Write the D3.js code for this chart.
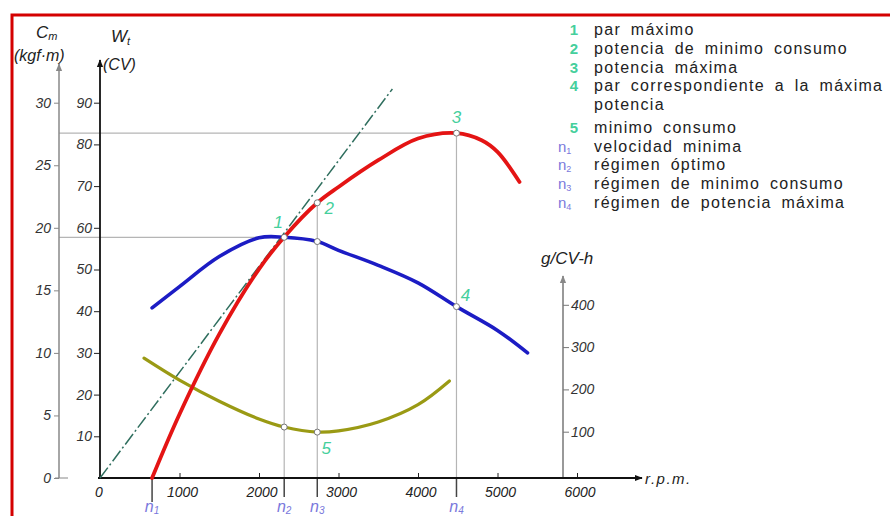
<!DOCTYPE html>
<html>
<head>
<meta charset="utf-8">
<script src="https://cdn.jsdelivr.net/npm/d3@7"></script>
<style>
  body { margin: 0; background: #fff; }
  svg { display: block; }
  .tick text { font-family: "Liberation Sans", Arial, sans-serif; font-style: italic; font-size: 14px; fill: #333; }
  .lbl { font-family: "Liberation Sans", Arial, sans-serif; font-style: italic; fill: #222; }
  .legend { font-family: "Liberation Sans", Arial, sans-serif; font-size: 16px; fill: #222; letter-spacing: 1.3px; word-spacing: 4px; }
</style>
</head>
<body>
<div id="box"></div>
<script>
// rpm for the special points n1..n4
var nRpm = [655, 2317, 2733, 4484];
var nNames = ["1", "2", "3", "4"];

// effective power Wt (CV)
var powerRpm = [655, 1000, 1500, 2000, 2317, 2733, 3000, 3500, 4000, 4484, 4800, 5000, 5277];
var powerCV  = [0, 15.3, 34.5, 50.1, 57.8, 66.0, 69.8, 76.2, 81.4, 82.7, 81.0, 78.2, 71.0];

// torque Cm (kgf.m)
var torqueRpm = [655, 1000, 1500, 2000, 2317, 2733, 3000, 3500, 4000, 4484, 5000, 5378];
var torqueKgm = [13.6, 15.3, 17.7, 19.2, 19.24, 18.9, 18.2, 17.0, 15.6, 13.7, 11.8, 10.0];

// specific consumption (g/CV-h)
var consRpm = [554, 1000, 1500, 2000, 2317, 2733, 3000, 3500, 4000, 4395];
var consG   = [274, 222, 172, 130, 111, 99, 102, 123, 164, 220];

// tangent line from origin
var tangentRpm = [0, 3678];
var tangentCV  = [0, 93.3];

// axis ticks
var rpmTicks = [0, 1000, 2000, 3000, 4000, 5000, 6000];
var cmTicks = [0, 5, 10, 15, 20, 25, 30];
var wtTicks = [10, 20, 30, 40, 50, 60, 70, 80, 90];
var gTicks = [100, 200, 300, 400];

var legendKeys = ["1", "2", "3", "4", "", "5", "n1", "n2", "n3", "n4"];
var legendTexts = ["par máximo", "potencia de minimo consumo", "potencia máxima",
    "par correspondiente a la máxima", "potencia", "minimo consumo", "velocidad minima",
    "régimen óptimo", "régimen de minimo consumo", "régimen de potencia máxima"];

var W = 890, H = 516;
var svg = d3.select("#box").append("svg").attr("width", W).attr("height", H);

var x = d3.scaleLinear().domain([0, 6000]).range([100, 577]);
var yW = d3.scaleLinear().domain([0, 90]).range([478, 102.7]);
var yC = d3.scaleLinear().domain([0, 30]).range([478, 102.7]);
var yG = d3.scaleLinear().domain([0, 400]).range([474, 304.8]);

var mint = "#45cf9c", nBlue = "#7a78dc";

// arrow markers
var defs = svg.append("defs");
function arrow(id, color) {
    defs.append("marker").attr("id", id)
        .attr("viewBox", "0 0 10 10").attr("refX", 9).attr("refY", 5)
        .attr("markerWidth", 8).attr("markerHeight", 8).attr("orient", "auto-start-reverse")
        .attr("markerUnits", "userSpaceOnUse")
        .append("path").attr("d", "M0,1 L10,5 L0,9 Z").attr("fill", color);
}
arrow("arB", "#111");
arrow("arG", "#888");

// red frame
svg.append("path").attr("d", "M12," + H + " L12,15 L" + W + ",15")
    .attr("fill", "none").attr("stroke", "#d40000").attr("stroke-width", 3);

// gray guide lines
var maxP = d3.max(powerCV), maxT = d3.max(torqueKgm);
svg.append("line").attr("x1", 59).attr("x2", x(nRpm[3])).attr("y1", yW(maxP)).attr("y2", yW(maxP))
    .attr("stroke", "#b5b5b5").attr("stroke-width", 1.2);
svg.append("line").attr("x1", 59).attr("x2", x(nRpm[1])).attr("y1", yC(maxT)).attr("y2", yC(maxT))
    .attr("stroke", "#b5b5b5").attr("stroke-width", 1.2);

function interp(xs, ys, v) { return d3.scaleLinear().domain(xs).range(ys)(v); }
var guideTop = [null, yC(maxT), yW(interp(powerRpm, powerCV, nRpm[2])), yW(maxP)];
nRpm.forEach(function(r, i) {
    if (guideTop[i] !== null)
        svg.append("line").attr("x1", x(r)).attr("x2", x(r)).attr("y1", guideTop[i]).attr("y2", 478)
            .attr("stroke", "#b5b5b5").attr("stroke-width", 1.2);
    svg.append("line").attr("x1", x(r)).attr("x2", x(r)).attr("y1", 478).attr("y2", i == 0 ? 502 : 497)
        .attr("stroke", "#444").attr("stroke-width", 1.5);
    var t = svg.append("text").attr("class", "lbl").attr("x", x(r)).attr("y", 512)
        .attr("text-anchor", "middle").attr("font-size", 16).style("fill", nBlue);
    t.append("tspan").text("n");
    t.append("tspan").attr("font-size", 10).attr("dy", 2).text(nNames[i]);
});

// Cm axis (gray)
var gC = svg.append("g").attr("transform", "translate(59,0)")
    .call(d3.axisLeft(yC).tickValues(cmTicks).tickSize(5).tickPadding(3));
gC.select(".domain").remove();
gC.selectAll(".tick line").attr("stroke", "#888");
svg.append("line").attr("x1", 59).attr("x2", 59).attr("y1", 478).attr("y2", 64)
    .attr("stroke", "#888").attr("stroke-width", 1.5).attr("marker-end", "url(#arG)");
svg.append("line").attr("x1", 55).attr("x2", 68).attr("y1", 478).attr("y2", 478).attr("stroke", "#888");

// Wt axis (black)
var gW = svg.append("g").attr("transform", "translate(100,0)")
    .call(d3.axisLeft(yW).tickValues(wtTicks).tickSize(6).tickPadding(2));
gW.select(".domain").remove();
gW.selectAll(".tick line").attr("stroke", "#222");
svg.append("line").attr("x1", 100).attr("x2", 100).attr("y1", 478).attr("y2", 60)
    .attr("stroke", "#111").attr("stroke-width", 1.8).attr("marker-end", "url(#arB)");

// consumption axis (right, gray)
var gG = svg.append("g").attr("transform", "translate(563,0)")
    .call(d3.axisRight(yG).tickValues(gTicks).tickSize(6).tickPadding(2));
gG.select(".domain").remove();
gG.selectAll(".tick line").attr("stroke", "#777");
svg.append("line").attr("x1", 563).attr("x2", 563).attr("y1", 478).attr("y2", 276)
    .attr("stroke", "#777").attr("stroke-width", 1.5).attr("marker-end", "url(#arG)");

// rpm axis
var gX = svg.append("g").attr("transform", "translate(0,478)")
    .call(d3.axisTop(x).tickValues(rpmTicks.slice(1)).tickSize(5).tickFormat(""));
gX.select(".domain").remove();
gX.selectAll(".tick line").attr("stroke", "#222");
svg.append("line").attr("x1", 98).attr("x2", 642).attr("y1", 478).attr("y2", 478)
    .attr("stroke", "#111").attr("stroke-width", 1.8).attr("marker-end", "url(#arB)");
svg.selectAll(".xlab").data(rpmTicks).enter().append("text")
    .attr("class", "lbl").attr("font-size", 14)
    .attr("x", function(d) { return d == 0 ? x(d) - 1 : x(d) + 3; })
    .attr("y", 497).attr("text-anchor", "middle")
    .text(function(d) { return d; });

// axis titles
var t1 = svg.append("text").attr("class", "lbl").attr("x", 36).attr("y", 38).attr("font-size", 17);
t1.append("tspan").text("C");
t1.append("tspan").attr("font-size", 11).attr("dy", 2).text("m");
svg.append("text").attr("class", "lbl").attr("x", 14).attr("y", 61).attr("font-size", 16).text("(kgf·m)");
var t2 = svg.append("text").attr("class", "lbl").attr("x", 111).attr("y", 42).attr("font-size", 17);
t2.append("tspan").text("W");
t2.append("tspan").attr("font-size", 11).attr("dy", 3).text("t");
svg.append("text").attr("class", "lbl").attr("x", 103).attr("y", 70).attr("font-size", 16).text("(CV)");
svg.append("text").attr("class", "lbl").attr("x", 541).attr("y", 264).attr("font-size", 17).text("g/CV-h");
svg.append("text").attr("class", "lbl").attr("x", 645).attr("y", 484).attr("font-size", 15)
    .attr("letter-spacing", 1.5).text("r.p.m.");

// tangent dash-dot
var lineT = d3.line().x(function(d, i) { return x(tangentRpm[i]); }).y(function(d) { return yW(d); });
svg.append("path").attr("d", lineT(tangentCV)).attr("fill", "none")
    .attr("stroke", "#2f6e5e").attr("stroke-width", 1.5).attr("stroke-dasharray", "13,3,2,3");

// curves
function curve(xs, ys, yScale, color, w) {
    var line = d3.line().curve(d3.curveCatmullRom.alpha(0.5))
        .x(function(d, i) { return x(xs[i]); })
        .y(function(d) { return yScale(d); });
    svg.append("path").attr("d", line(ys)).attr("fill", "none")
        .attr("stroke", color).attr("stroke-width", w).attr("stroke-linecap", "round");
}
curve(consRpm, consG, yG, "#9a9a14", 3.2);
curve(torqueRpm, torqueKgm, yC, "#1c1cc4", 3.6);
curve(powerRpm, powerCV, yW, "#e41414", 3.8);

// marker points
var pts = [
    [nRpm[1], yC(interp(torqueRpm, torqueKgm, nRpm[1]))],
    [nRpm[2], yC(interp(torqueRpm, torqueKgm, nRpm[2]))],
    [nRpm[2], yW(interp(powerRpm, powerCV, nRpm[2]))],
    [nRpm[3], yW(maxP)],
    [nRpm[3], yC(interp(torqueRpm, torqueKgm, nRpm[3]))],
    [nRpm[1], yG(interp(consRpm, consG, nRpm[1]))],
    [nRpm[2], yG(interp(consRpm, consG, nRpm[2]))]
];
svg.selectAll(".pt").data(pts).enter().append("circle")
    .attr("cx", function(d) { return x(d[0]); }).attr("cy", function(d) { return d[1]; })
    .attr("r", 3).attr("fill", "#fff").attr("stroke", "#777").attr("stroke-width", 1);

// point numbers
var numPos = [[pts[0], -6, -9], [pts[2], 12, 11], [pts[3], 0, -10], [pts[4], 9, -6], [pts[6], 9, 22]];
var numLbl = ["1", "2", "3", "4", "5"];
numPos.forEach(function(p, i) {
    svg.append("text").attr("class", "lbl").attr("font-size", 17).style("fill", mint)
        .attr("x", x(p[0][0]) + p[1]).attr("y", p[0][1] + p[2]).attr("text-anchor", "middle")
        .text(numLbl[i]);
});

// legend
var legY = d3.scalePoint().domain(d3.range(legendTexts.length)).range([35, 204]);
legendTexts.forEach(function(txt, i) {
    var yy = legY(i) + (i >= 5 ? 4 : 0);
    var k = legendKeys[i];
    if (k.length == 1) {
        svg.append("text").attr("x", 574).attr("y", yy).attr("text-anchor", "middle")
            .attr("font-family", "Liberation Sans, Arial").attr("font-weight", "bold")
            .attr("font-size", 15).attr("fill", mint).text(k);
    } else if (k.length == 2) {
        var t = svg.append("text").attr("x", 558).attr("y", yy)
            .attr("font-family", "Liberation Sans, Arial").attr("font-size", 15).attr("fill", nBlue);
        t.append("tspan").text("n");
        t.append("tspan").attr("font-size", 9).attr("dy", 2).text(k[1]);
    }
    svg.append("text").attr("class", "legend").attr("x", 594).attr("y", yy).text(txt);
});
</script>
</body>
</html>
